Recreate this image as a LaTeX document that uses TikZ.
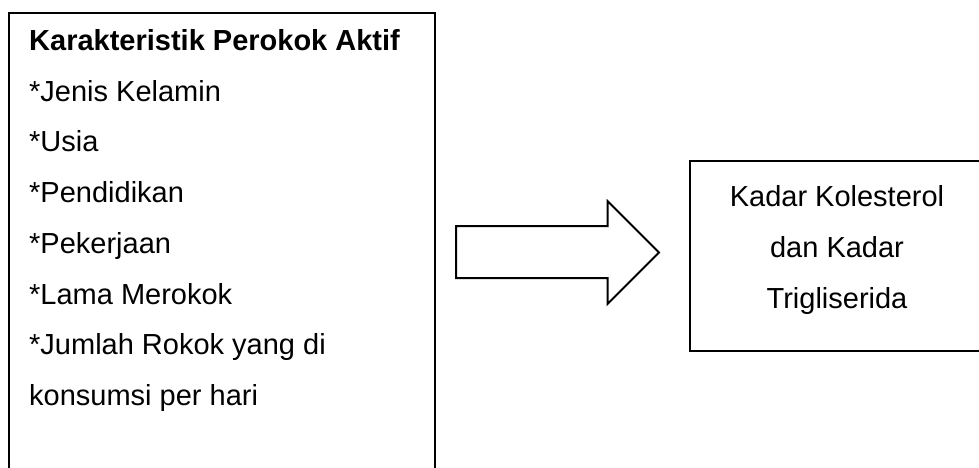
\documentclass[tikz,border=0pt]{standalone}
\usepackage{fontspec}
\setmainfont{Liberation Sans}
\begin{document}
\begin{tikzpicture}[x=1pt,y=-1pt,
  boxframe/.style={draw=black, line width=2pt, fill=none, inner sep=0pt, rectangle},
  txt/.style={inner sep=0pt, font=\fontsize{29}{35}\selectfont},
  bigarrow/.style={draw=black, line width=2pt, line join=miter, fill=white}]
\useasboundingbox (0,0) rectangle (979,468);
\clip (0,0) rectangle (979,468);
% left box
\node[boxframe, anchor=north west, minimum width=426pt, minimum height=480pt] (lbox) at (8,12) {};
\node[txt, anchor=base west] (l0) at (29,50.5) {\bfseries Karakteristik Perokok Aktif};
\node[txt, anchor=base west] (l1) at (29,101.2) {*Jenis Kelamin};
\node[txt, anchor=base west] (l2) at (29,151.9) {*Usia};
\node[txt, anchor=base west] (l3) at (29,202.6) {*Pendidikan};
\node[txt, anchor=base west] (l4) at (29,253.3) {*Pekerjaan};
\node[txt, anchor=base west] (l5) at (29,304) {*Lama Merokok};
\node[txt, anchor=base west] (l6) at (29,354.7) {*Jumlah Rokok yang di};
\node[txt, anchor=base west] (l7) at (29,405.4) {konsumsi per hari};
% block arrow
\draw[bigarrow] (456,226) -- (607.5,226) -- (607.5,201) -- (659,252.5) -- (607.5,304) -- (607.5,278) -- (456,278) -- cycle;
% right box
\node[boxframe, anchor=north west, minimum width=296pt, minimum height=190pt] (rbox) at (689,160) {};
\node[txt, anchor=base] (r1) at (837,206.7) {Kadar Kolesterol};
\node[txt, anchor=base] (r2) at (837,257.4) {dan Kadar};
\node[txt, anchor=base] (r3) at (837,308.1) {Trigliserida};
\end{tikzpicture}
\end{document}
